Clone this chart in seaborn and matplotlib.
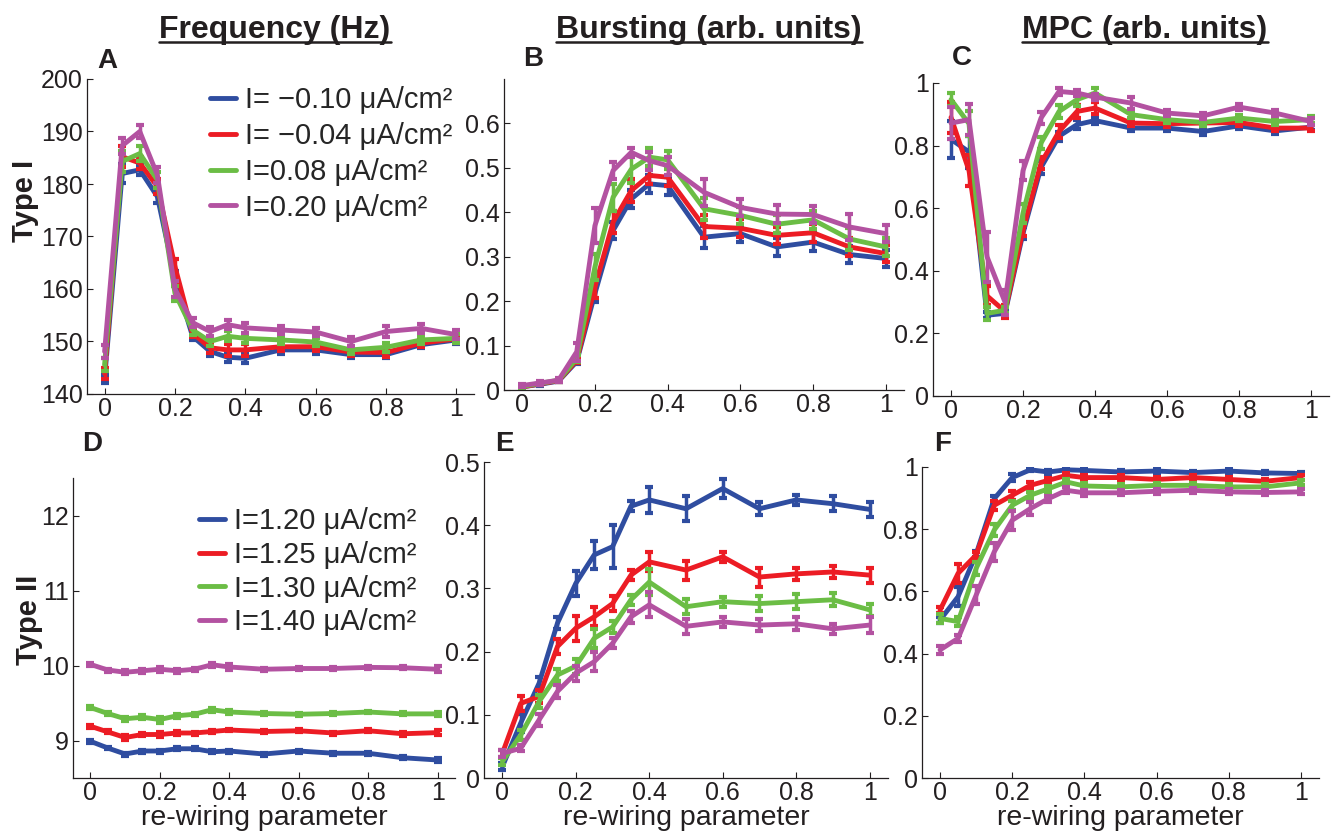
import seaborn as sns
import matplotlib.pyplot as plt
from matplotlib.lines import Line2D
from matplotlib.ticker import FormatStrFormatter

sns.set_style("ticks")
plt.rcParams['font.family'] = ['Liberation Sans', 'DejaVu Sans']

# re-wiring parameter
x = [0, 0.05, 0.1, 0.15, 0.2, 0.25, 0.3, 0.35, 0.4, 0.5, 0.6, 0.7, 0.8, 0.9, 1.0]

colores = ['#2F4DA0', '#EC1C24', '#6BBD45', '#B352A1']
etiquetas_I = ['I= −0.10 μA/cm²', 'I= −0.04 μA/cm²', 'I=0.08 μA/cm²', 'I=0.20 μA/cm²']
etiquetas_II = ['I=1.20 μA/cm²', 'I=1.25 μA/cm²', 'I=1.30 μA/cm²', 'I=1.40 μA/cm²']

# Tipo I - frecuencia (Hz)
frec_I = [
    [142.9, 182.0, 182.7, 177.6, 162.0, 151.0, 148.1, 147.0, 146.8, 148.4, 148.4, 147.5, 147.5, 149.4, 150.3],
    [143.9, 185.2, 184.0, 179.5, 164.3, 151.6, 148.8, 148.4, 148.4, 149.0, 149.0, 148.0, 147.9, 149.7, 150.5],
    [145.6, 184.3, 185.8, 180.8, 159.2, 152.2, 150.0, 151.0, 150.6, 150.3, 149.9, 148.4, 148.9, 150.3, 150.6],
    [148.1, 187.3, 190.0, 181.7, 160.0, 153.6, 151.9, 153.2, 152.6, 152.2, 151.8, 150.0, 151.9, 152.5, 151.3],
]
err_frec_I = [
    [0.8, 1.8, 1.0, 1.2, 1.5, 0.8, 0.8, 0.9, 0.9, 0.7, 0.7, 0.7, 0.7, 0.7, 0.7],
    [1.0, 2.0, 1.2, 1.4, 1.5, 0.8, 0.9, 1.2, 1.2, 0.8, 0.8, 0.7, 0.9, 0.8, 0.8],
    [1.2, 2.0, 1.5, 1.5, 1.4, 0.9, 0.9, 1.0, 0.9, 0.8, 0.8, 0.7, 0.9, 0.8, 0.9],
    [1.3, 1.5, 1.2, 1.5, 1.5, 0.9, 0.9, 0.8, 0.9, 0.8, 0.8, 0.8, 1.0, 0.8, 0.9],
]

# Tipo I - bursting
burst_I = [
    [0.007, 0.013, 0.02, 0.064, 0.217, 0.359, 0.430, 0.464, 0.460, 0.344, 0.352, 0.322, 0.333, 0.305, 0.296],
    [0.007, 0.014, 0.021, 0.067, 0.232, 0.378, 0.449, 0.483, 0.479, 0.368, 0.364, 0.348, 0.354, 0.322, 0.307],
    [0.008, 0.015, 0.022, 0.071, 0.277, 0.434, 0.497, 0.524, 0.518, 0.408, 0.393, 0.373, 0.383, 0.340, 0.322],
    [0.010, 0.016, 0.022, 0.086, 0.370, 0.494, 0.535, 0.516, 0.505, 0.445, 0.411, 0.396, 0.395, 0.367, 0.352],
]
err_burst_I = [
    [0.003, 0.003, 0.003, 0.005, 0.02, 0.02, 0.02, 0.02, 0.02, 0.025, 0.02, 0.02, 0.02, 0.02, 0.02],
    [0.003, 0.003, 0.003, 0.006, 0.025, 0.025, 0.025, 0.02, 0.02, 0.025, 0.02, 0.02, 0.02, 0.02, 0.02],
    [0.003, 0.003, 0.003, 0.008, 0.03, 0.03, 0.03, 0.02, 0.02, 0.025, 0.02, 0.02, 0.02, 0.025, 0.02],
    [0.004, 0.004, 0.004, 0.02, 0.04, 0.02, 0.01, 0.02, 0.02, 0.03, 0.02, 0.02, 0.02, 0.03, 0.02],
]

# Tipo I - MPC
mpc_I = [
    [0.82, 0.78, 0.258, 0.264, 0.52, 0.73, 0.83, 0.867, 0.88, 0.856, 0.856, 0.845, 0.863, 0.847, 0.859],
    [0.89, 0.72, 0.32, 0.27, 0.53, 0.744, 0.845, 0.909, 0.92, 0.872, 0.87, 0.872, 0.874, 0.856, 0.856],
    [0.947, 0.87, 0.264, 0.274, 0.584, 0.808, 0.909, 0.947, 0.968, 0.899, 0.883, 0.874, 0.888, 0.877, 0.883],
    [0.872, 0.883, 0.445, 0.30, 0.72, 0.888, 0.973, 0.968, 0.955, 0.936, 0.904, 0.895, 0.923, 0.904, 0.877],
]
err_mpc_I = [
    [0.06, 0.05, 0.01, 0.01, 0.02, 0.02, 0.015, 0.015, 0.01, 0.01, 0.01, 0.01, 0.01, 0.01, 0.01],
    [0.05, 0.05, 0.03, 0.02, 0.02, 0.02, 0.02, 0.02, 0.02, 0.01, 0.01, 0.01, 0.01, 0.01, 0.01],
    [0.02, 0.04, 0.02, 0.01, 0.03, 0.02, 0.02, 0.02, 0.015, 0.01, 0.01, 0.01, 0.01, 0.01, 0.01],
    [0.05, 0.05, 0.08, 0.04, 0.03, 0.02, 0.01, 0.01, 0.01, 0.02, 0.01, 0.01, 0.01, 0.01, 0.01],
]

# Tipo II - frecuencia (Hz)
frec_II = [
    [8.99, 8.90, 8.82, 8.86, 8.86, 8.89, 8.89, 8.85, 8.86, 8.82, 8.86, 8.83, 8.83, 8.77, 8.74],
    [9.19, 9.115, 9.04, 9.08, 9.08, 9.10, 9.10, 9.12, 9.14, 9.12, 9.13, 9.10, 9.13, 9.09, 9.105],
    [9.44, 9.36, 9.29, 9.31, 9.28, 9.33, 9.35, 9.41, 9.38, 9.36, 9.35, 9.36, 9.38, 9.355, 9.355],
    [10.015, 9.94, 9.91, 9.93, 9.95, 9.93, 9.95, 10.01, 9.98, 9.95, 9.96, 9.96, 9.975, 9.97, 9.95],
]
err_frec_II = [
    [0.02, 0.02, 0.02, 0.02, 0.02, 0.02, 0.02, 0.02, 0.02, 0.02, 0.02, 0.02, 0.02, 0.02, 0.03],
    [0.02, 0.02, 0.03, 0.02, 0.03, 0.03, 0.02, 0.02, 0.02, 0.02, 0.02, 0.02, 0.02, 0.03, 0.03],
    [0.02, 0.02, 0.03, 0.03, 0.04, 0.03, 0.02, 0.03, 0.03, 0.02, 0.02, 0.02, 0.02, 0.02, 0.03],
    [0.02, 0.02, 0.03, 0.03, 0.03, 0.03, 0.02, 0.03, 0.04, 0.02, 0.02, 0.02, 0.02, 0.02, 0.04],
]

# Tipo II - bursting
burst_II = [
    [0.018, 0.087, 0.150, 0.245, 0.308, 0.353, 0.366, 0.430, 0.440, 0.426, 0.458, 0.426, 0.440, 0.434, 0.425],
    [0.039, 0.118, 0.129, 0.208, 0.237, 0.255, 0.276, 0.321, 0.342, 0.329, 0.350, 0.318, 0.323, 0.326, 0.321],
    [0.026, 0.068, 0.121, 0.163, 0.177, 0.221, 0.239, 0.282, 0.310, 0.271, 0.279, 0.276, 0.279, 0.282, 0.266],
    [0.039, 0.047, 0.092, 0.137, 0.166, 0.184, 0.213, 0.255, 0.274, 0.240, 0.247, 0.242, 0.244, 0.236, 0.242],
]
err_burst_II = [
    [0.005, 0.015, 0.01, 0.01, 0.02, 0.022, 0.034, 0.008, 0.02, 0.02, 0.015, 0.01, 0.008, 0.012, 0.012],
    [0.005, 0.012, 0.01, 0.012, 0.02, 0.015, 0.012, 0.008, 0.015, 0.015, 0.008, 0.015, 0.01, 0.01, 0.012],
    [0.005, 0.008, 0.01, 0.01, 0.012, 0.015, 0.01, 0.008, 0.02, 0.012, 0.008, 0.012, 0.012, 0.01, 0.01],
    [0.005, 0.005, 0.01, 0.01, 0.012, 0.015, 0.008, 0.01, 0.02, 0.012, 0.008, 0.01, 0.01, 0.008, 0.012],
]

# Tipo II - MPC
mpc_II = [
    [0.508, 0.583, 0.72, 0.898, 0.966, 0.991, 0.984, 0.991, 0.989, 0.984, 0.987, 0.982, 0.987, 0.981, 0.979],
    [0.54, 0.658, 0.717, 0.877, 0.909, 0.941, 0.957, 0.973, 0.966, 0.966, 0.96, 0.966, 0.96, 0.954, 0.966],
    [0.513, 0.503, 0.674, 0.797, 0.877, 0.909, 0.93, 0.952, 0.939, 0.936, 0.941, 0.941, 0.936, 0.936, 0.949],
    [0.412, 0.449, 0.588, 0.727, 0.829, 0.866, 0.898, 0.925, 0.917, 0.917, 0.922, 0.925, 0.92, 0.918, 0.92],
]
err_mpc_II = [
    [0.01, 0.03, 0.01, 0.01, 0.01, 0.005, 0.005, 0.005, 0.005, 0.005, 0.005, 0.005, 0.005, 0.005, 0.005],
    [0.01, 0.03, 0.01, 0.015, 0.015, 0.01, 0.008, 0.008, 0.008, 0.008, 0.008, 0.008, 0.008, 0.008, 0.008],
    [0.015, 0.015, 0.02, 0.02, 0.015, 0.01, 0.01, 0.008, 0.008, 0.008, 0.008, 0.008, 0.008, 0.008, 0.008],
    [0.012, 0.012, 0.03, 0.03, 0.03, 0.02, 0.01, 0.01, 0.01, 0.008, 0.008, 0.008, 0.008, 0.008, 0.008],
]

W, H = 1331, 834
fig = plt.figure(figsize=(W / 100, H / 100), dpi=100)


def ejes(l, t, r, b):
    return fig.add_axes([l / W, 1 - b / H, (r - l) / W, (b - t) / H])


paneles = [
    # rect (px), datos, errores, ylim, yticks, letra, pos letra, xlabel
    ((87, 79, 474, 394), frec_I, err_frec_I, (140, 200), range(140, 201, 10), 'A', (107, 61), False),
    ((504, 79, 904, 390), burst_I, err_burst_I, (0, 0.7), [0, 0.1, 0.2, 0.3, 0.4, 0.5, 0.6], 'B', (533, 59), False),
    ((933, 83, 1329, 396), mpc_I, err_mpc_I, (0, 1), [0, 0.2, 0.4, 0.6, 0.8, 1], 'C', (962, 58), False),
    ((73, 478, 455, 778), frec_II, err_frec_II, (8.5, 12.5), [9, 10, 11, 12], 'D', (92, 444), True),
    ((484, 462, 888, 778), burst_II, err_burst_II, (0, 0.5), [0, 0.1, 0.2, 0.3, 0.4, 0.5], 'E', (504, 444), True),
    ((922, 467, 1319, 778), mpc_II, err_mpc_II, (0, 1), [0, 0.2, 0.4, 0.6, 0.8, 1], 'F', (943, 444), True),
]

axs = []
for rect, datos, errores, ylim, yticks, letra, pos, conlabel in paneles:
    ax = ejes(*rect)
    for vals, e, c in zip(datos, errores, colores):
        sns.lineplot(x=x, y=vals, color=c, linewidth=3.5, ax=ax, errorbar=None)
        ax.errorbar(x, vals, yerr=e, fmt='none', ecolor=c, elinewidth=2.5,
                    capsize=3, capthick=3)
    ax.set_xlim(-0.05, 1.05)
    ax.set_ylim(*ylim)
    ax.set_xticks([0, 0.2, 0.4, 0.6, 0.8, 1])
    ax.set_yticks(list(yticks))
    ax.xaxis.set_major_formatter(FormatStrFormatter('%g'))
    ax.yaxis.set_major_formatter(FormatStrFormatter('%g'))
    ax.tick_params(direction='in', length=4, width=0.8, labelsize=18,
                   colors='#231F20', pad=3)
    ax.tick_params(axis='x', pad=2)
    sns.despine(ax=ax)
    for s in ['left', 'bottom']:
        ax.spines[s].set_linewidth(0.9)
        ax.spines[s].set_color('#231F20')
    if conlabel:
        ax.set_xlabel('re-wiring parameter', fontsize=20.5, labelpad=0, color='#231F20')
    else:
        ax.set_xlabel('')
    ax.set_ylabel('')
    fig.text(pos[0] / W, 1 - pos[1] / H, letra, fontsize=20, fontweight='bold',
             ha='center', va='center', color='#231F20')
    axs.append(ax)

# leyendas
manijas = [Line2D([], [], color=c, linewidth=3.5) for c in colores]
for ax, etiquetas, (px, py), esp in [(axs[0], etiquetas_I, (210, 86), 0.27),
                                     (axs[3], etiquetas_II, (199, 507), 0.2)]:
    ax.legend(manijas, etiquetas, loc='upper left', bbox_to_anchor=(px / W, 1 - py / H),
              bbox_transform=fig.transFigure, frameon=False, fontsize=21,
              handlelength=0.9, handletextpad=0.3, labelspacing=esp,
              borderpad=0, borderaxespad=0)

# etiquetas de fila
fig.text(25 / W, 1 - 201 / H, 'Type I', rotation=90, fontsize=21, fontweight='bold',
         ha='center', va='center', color='#231F20')
fig.text(29 / W, 1 - 620 / H, 'Type II', rotation=90, fontsize=21, fontweight='bold',
         ha='center', va='center', color='#231F20')

# titulos de columna subrayados
titulos = [('Frequency (Hz)', 275), ('Bursting (arb. units)', 709), ('MPC (arb. units)', 1145)]
textos = []
for txt, cx in titulos:
    textos.append(fig.text(cx / W, 1 - 38 / H, txt, fontsize=23, fontweight='bold',
                           ha='center', va='baseline', color='#231F20'))
fig.canvas.draw()
rend = fig.canvas.get_renderer()
for t in textos:
    bb = t.get_window_extent(rend)
    fig.add_artist(Line2D([bb.x0 / W, bb.x1 / W], [1 - 42 / H, 1 - 42 / H],
                          transform=fig.transFigure, color='#231F20', linewidth=1.8))

fig.savefig('out.png', dpi=100)
